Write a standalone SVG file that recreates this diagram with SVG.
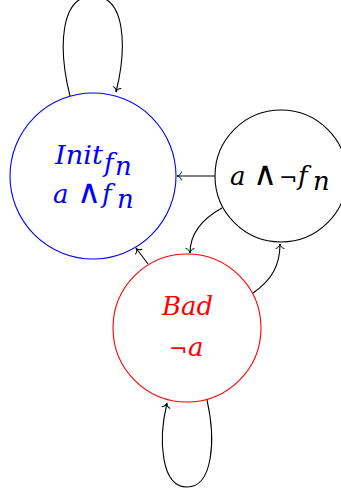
<svg xmlns="http://www.w3.org/2000/svg" width="341" height="494" viewBox="0 0 341 494">
<style>
.e{fill:none;stroke:#000;stroke-width:1.1;marker-end:url(#to)}
.m{font-family:"DejaVu Serif","Liberation Serif",serif;font-style:italic;font-size:26px}
.u{font-family:"Liberation Serif","DejaVu Serif",serif;font-style:normal;font-size:33px}
.n{font-family:"DejaVu Sans","Liberation Sans",sans-serif;font-style:normal;font-size:22px}
</style>
<defs>
<marker id="to" markerUnits="userSpaceOnUse" markerWidth="12" markerHeight="12" viewBox="-6 -6 12 12" refX="0" refY="0" orient="auto" overflow="visible">
<path d="M-4.5,-4 C-4,-1.6 -1.8,-0.3 0,0 C-1.8,0.3 -4,1.6 -4.5,4" fill="none" stroke="#000" stroke-width="1" stroke-linecap="round"/>
</marker>
</defs>
<rect width="341" height="494" fill="#fff"/>
<g id="edges">
<path class="e" d="M70,96 C58,48 60,-4 93,-4 C126,-4 127,48 116,92"/>
<path class="e" d="M215,176 L177,176"/>
<path class="e" d="M222,208 C202,219 190,234 190,253"/>
<path class="e" d="M253,293 C272,280 280,265 280,244"/>
<path class="e" d="M148,264 L136,248"/>
<path class="e" d="M207,400 C216,440 213,487 187,487 C161,487 158,440 167,403"/>
</g>
<g id="init">
<circle cx="93" cy="176" r="83" fill="none" stroke="#0000ff" stroke-width="1.1"/>
<g fill="#0000ff">
<text class="m" x="55" y="164" textLength="48" lengthAdjust="spacingAndGlyphs">Init</text>
<text class="m" x="104" y="172" font-size="18">f</text>
<text class="m" x="115" y="175" font-size="15">n</text>
<text class="m" x="53" y="203">a</text>
<text class="u" x="77" y="203">∧</text>
<text class="m" x="102" y="203">f</text>
<text class="m" x="117" y="208" font-size="19">n</text>
</g>
</g>
<g id="notf">
<circle cx="281" cy="176" r="66" fill="none" stroke="#000" stroke-width="1.1"/>
<g fill="#000">
<text class="m" x="230" y="185">a</text>
<text class="u" x="253" y="185">∧</text>
<text class="n" x="279" y="185">¬</text>
<text class="m" x="298" y="185">f</text>
<text class="m" x="313" y="190" font-size="19">n</text>
</g>
</g>
<g id="bad">
<circle cx="187" cy="328" r="74" fill="none" stroke="#ff0000" stroke-width="1.1"/>
<g fill="#ff0000">
<text class="m" x="162" y="315" textLength="51" lengthAdjust="spacingAndGlyphs">Bad</text>
<text class="n" x="169" y="356">¬</text>
<text class="m" x="188" y="356">a</text>
</g>
</g>
</svg>
